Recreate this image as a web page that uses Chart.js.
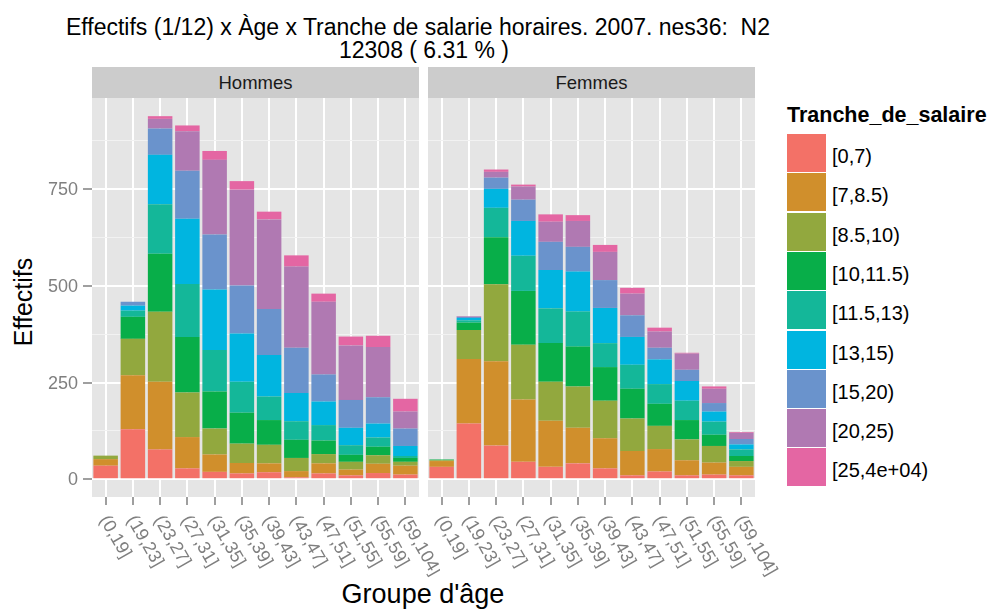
<!DOCTYPE html>
<html>
<head>
<meta charset="utf-8">
<script src="https://cdn.jsdelivr.net/npm/chart.js"></script>
<style>
  body { margin: 0; background: #fff; font-family: "Liberation Sans", Arial, sans-serif; }
  #page { position: relative; width: 989px; height: 613px; overflow: hidden; background: #fff; }
  canvas { position: absolute; top: 0; }
  #cA { left: 0; z-index: 2; }
  #cB { left: 428px; z-index: 1; }
  .title { position: absolute; text-align: center; font-size: 23px; line-height: 23px; color: #000; white-space: pre; }
  .strip { position: absolute; top: 67px; height: 31px; background: #cccccc; font-size: 18.5px; color: #1a1a1a;
           display: flex; align-items: center; justify-content: center; z-index: 3; }
  .axtitle { position: absolute; color: #000; white-space: nowrap; }
  #legend-title { position: absolute; left: 787px; top: 103px; font-size: 21.5px; font-weight: bold; color: #000; white-space: nowrap; }
  .key { position: absolute; left: 787px; width: 39px; height: 38px; }
  .klab { position: absolute; left: 832px; height: 38px; font-size: 20px; color: #000; display: flex; align-items: center; padding-top: 7px; box-sizing: border-box; white-space: nowrap; }
</style>
</head>
<body>
<div id="page">
  <div class="title" style="top:16px;left:0;width:836px;">Effectifs (1/12) x Àge x Tranche de salarie horaires. 2007. nes36:  N2</div>
  <div class="title" style="top:39px;left:0;width:848px;">12308 ( 6.31 % )</div>
  <div class="strip" style="left:92px;width:327px;">Hommes</div>
  <div class="strip" style="left:428px;width:327px;">Femmes</div>
  <canvas id="cA" width="440" height="613"></canvas>
  <canvas id="cB" width="360" height="613"></canvas>
  <div class="axtitle" style="left:423px;top:579px;font-size:27px;transform:translateX(-50%);">Groupe d'âge</div>
  <div class="axtitle" style="left:23px;top:302px;font-size:25px;transform:translate(-50%,-50%) rotate(-90deg);">Effectifs</div>
  <div id="legend-title">Tranche_de_salaire</div>
  <div id="legend"></div>
</div>
<script>
// age groups (x categories)
var ageGroups = ['(0,19]', '(19,23]', '(23,27]', '(27,31]', '(31,35]', '(35,39]',
                 '(39,43]', '(43,47]', '(47,51]', '(51,55]', '(55,59]', '(59,104]'];

// salary bands (stack order, bottom to top)
var tranches = ['[0,7)', '[7,8.5)', '[8.5,10)', '[10,11.5)', '[11.5,13)',
                '[13,15)', '[15,20)', '[20,25)', '[25,4e+04)'];
var colors = ['#F37167', '#D08F2C', '#92A83E', '#08AE49', '#14B799',
              '#00B5E0', '#6A93CC', '#B079B2', '#E466A3'];

// Hommes, one array per salary band
var h0 = [35, 129, 77, 28, 19, 15, 18, 5, 15, 10, 16, 12];
var h1 = [17, 140, 175, 81, 45, 27, 23, 16, 26, 15, 24, 23];
var h2 = [9, 94, 181, 115, 67, 50, 48, 34, 24, 20, 22, 10];
var h3 = [0, 57, 150, 144, 96, 80, 64, 47, 35, 18, 22, 10];
var h4 = [0, 16, 128, 137, 107, 80, 61, 48, 40, 25, 24, 5];
var h5 = [0, 13, 128, 169, 157, 125, 107, 73, 61, 45, 36, 26];
var h6 = [0, 10, 68, 124, 142, 124, 119, 117, 70, 72, 68, 45];
var h7 = [0, 0, 25, 102, 193, 248, 232, 210, 188, 141, 130, 44];
var h8 = [0, 0, 7, 15, 23, 22, 20, 29, 21, 23, 29, 33];

// Femmes
var f0 = [32, 144, 87, 45, 32, 41, 28, 10, 20, 10, 12, 10];
var f1 = [15, 167, 218, 161, 119, 92, 78, 63, 58, 39, 31, 22];
var f2 = [2, 75, 199, 142, 101, 107, 97, 84, 60, 54, 43, 15];
var f3 = [2, 19, 122, 139, 100, 103, 87, 77, 57, 50, 29, 13];
var f4 = [0, 6, 76, 91, 90, 91, 62, 62, 51, 50, 34, 17];
var f5 = [0, 6, 49, 90, 99, 103, 91, 72, 64, 51, 26, 13];
var f6 = [0, 3, 29, 55, 73, 64, 72, 56, 30, 29, 22, 14];
var f7 = [0, 1, 15, 34, 52, 67, 73, 56, 42, 42, 37, 16];
var f8 = [0, 1, 6, 5, 19, 15, 18, 15, 10, 2, 6, 2];

var yTicks = [0, 125, 250, 375, 500, 625, 750, 875];

var hommes = [h0, h1, h2, h3, h4, h5, h6, h7, h8];
var femmes = [f0, f1, f2, f3, f4, f5, f6, f7, f8];

var FONT = '"Liberation Sans", Arial, sans-serif';

// legend (html)
function buildLegend() {
  var legend = document.getElementById('legend');
  for (var i = 0; i < tranches.length; i++) {
    var keyTop = 134 + 39.3 * i;
    var k = document.createElement('div');
    k.className = 'key';
    k.style.top = keyTop + 'px';
    k.style.background = colors[i];
    legend.appendChild(k);
    var l = document.createElement('div');
    l.className = 'klab';
    l.style.top = keyTop + 'px';
    l.textContent = tranches[i];
    legend.appendChild(l);
  }
}
buildLegend();

// grey panel background
var panelBg = {
  id: 'panelBg',
  beforeDraw: function(chart) {
    var a = chart.chartArea, ctx = chart.ctx;
    ctx.save();
    ctx.fillStyle = '#e5e5e5';
    ctx.fillRect(a.left, a.top, a.right - a.left, a.bottom - a.top);
    ctx.restore();
  }
};

// axis labels: x rotated (start at tick, going down-right), y right aligned
var axisLabels = {
  id: 'axisLabels',
  afterDraw: function(chart, args, opts) {
    var xs = chart.scales.x, ys = chart.scales.y, ctx = chart.ctx;
    ctx.save();
    ctx.font = '18px ' + FONT;
    ctx.fillStyle = '#7f7f7f';
    ctx.textAlign = 'left';
    ctx.textBaseline = 'middle';
    for (var i = 0; i < ageGroups.length; i++) {
      var x = xs.getPixelForValue(i);
      ctx.save();
      ctx.translate(x - 2, chart.chartArea.bottom + 20);
      ctx.rotate(60 * Math.PI / 180);
      ctx.fillText(ageGroups[i], 0, 0);
      ctx.restore();
    }
    if (opts.showY) {
      ctx.textAlign = 'right';
      for (var j = 0; j < yTicks.length; j++) {
        if (yTicks[j] % 250 !== 0) continue;
        ctx.fillText(String(yTicks[j]), chart.chartArea.left - 14, ys.getPixelForValue(yTicks[j]) + 1);
      }
    }
    ctx.restore();
  }
};

function makeChart(id, series, showY, padRight) {
  return new Chart(document.getElementById(id), {
    type: 'bar',
    data: {
      labels: ageGroups,
      datasets: tranches.map(function(t, i) {
        return {
          label: t,
          data: series[i],
          backgroundColor: colors[i],
          borderWidth: 0,
          barPercentage: 0.9,
          categoryPercentage: 1
        };
      })
    },
    options: {
      responsive: false,
      animation: false,
      layout: { padding: { top: 98, right: padRight, left: 0, bottom: 0 } },
      plugins: {
        legend: { display: false },
        tooltip: { enabled: false },
        title: { display: false },
        axisLabels: { showY: showY }
      },
      scales: {
        x: {
          stacked: true,
          grid: { offset: false, color: '#ffffff', lineWidth: 2, drawTicks: true,
                  tickColor: '#7f7f7f', tickLength: 8, tickWidth: 1.5 },
          border: { display: false },
          ticks: { display: false },
          afterFit: function(s) { s.height = 116; }
        },
        y: {
          stacked: true,
          min: -46,
          max: 986,
          afterBuildTicks: function(s) {
            s.ticks = yTicks.map(function(v) { return { value: v }; });
          },
          grid: {
            color: function(c) { return c.tick && c.tick.value % 250 === 0 ? '#ffffff' : '#f2f2f2'; },
            lineWidth: function(c) { return c.tick && c.tick.value % 250 === 0 ? 2 : 1; },
            drawTicks: showY,
            tickLength: 9,
            tickWidth: 1.5,
            tickColor: function(c) { return c.tick && c.tick.value % 250 === 0 ? '#7f7f7f' : 'rgba(0,0,0,0)'; }
          },
          border: { display: false },
          ticks: { display: false },
          afterFit: function(s) { s.width = showY ? 92 : 0; }
        }
      }
    },
    plugins: [panelBg, axisLabels]
  });
}

makeChart('cA', hommes, true, 21);
makeChart('cB', femmes, false, 33);
</script>
</body>
</html>
